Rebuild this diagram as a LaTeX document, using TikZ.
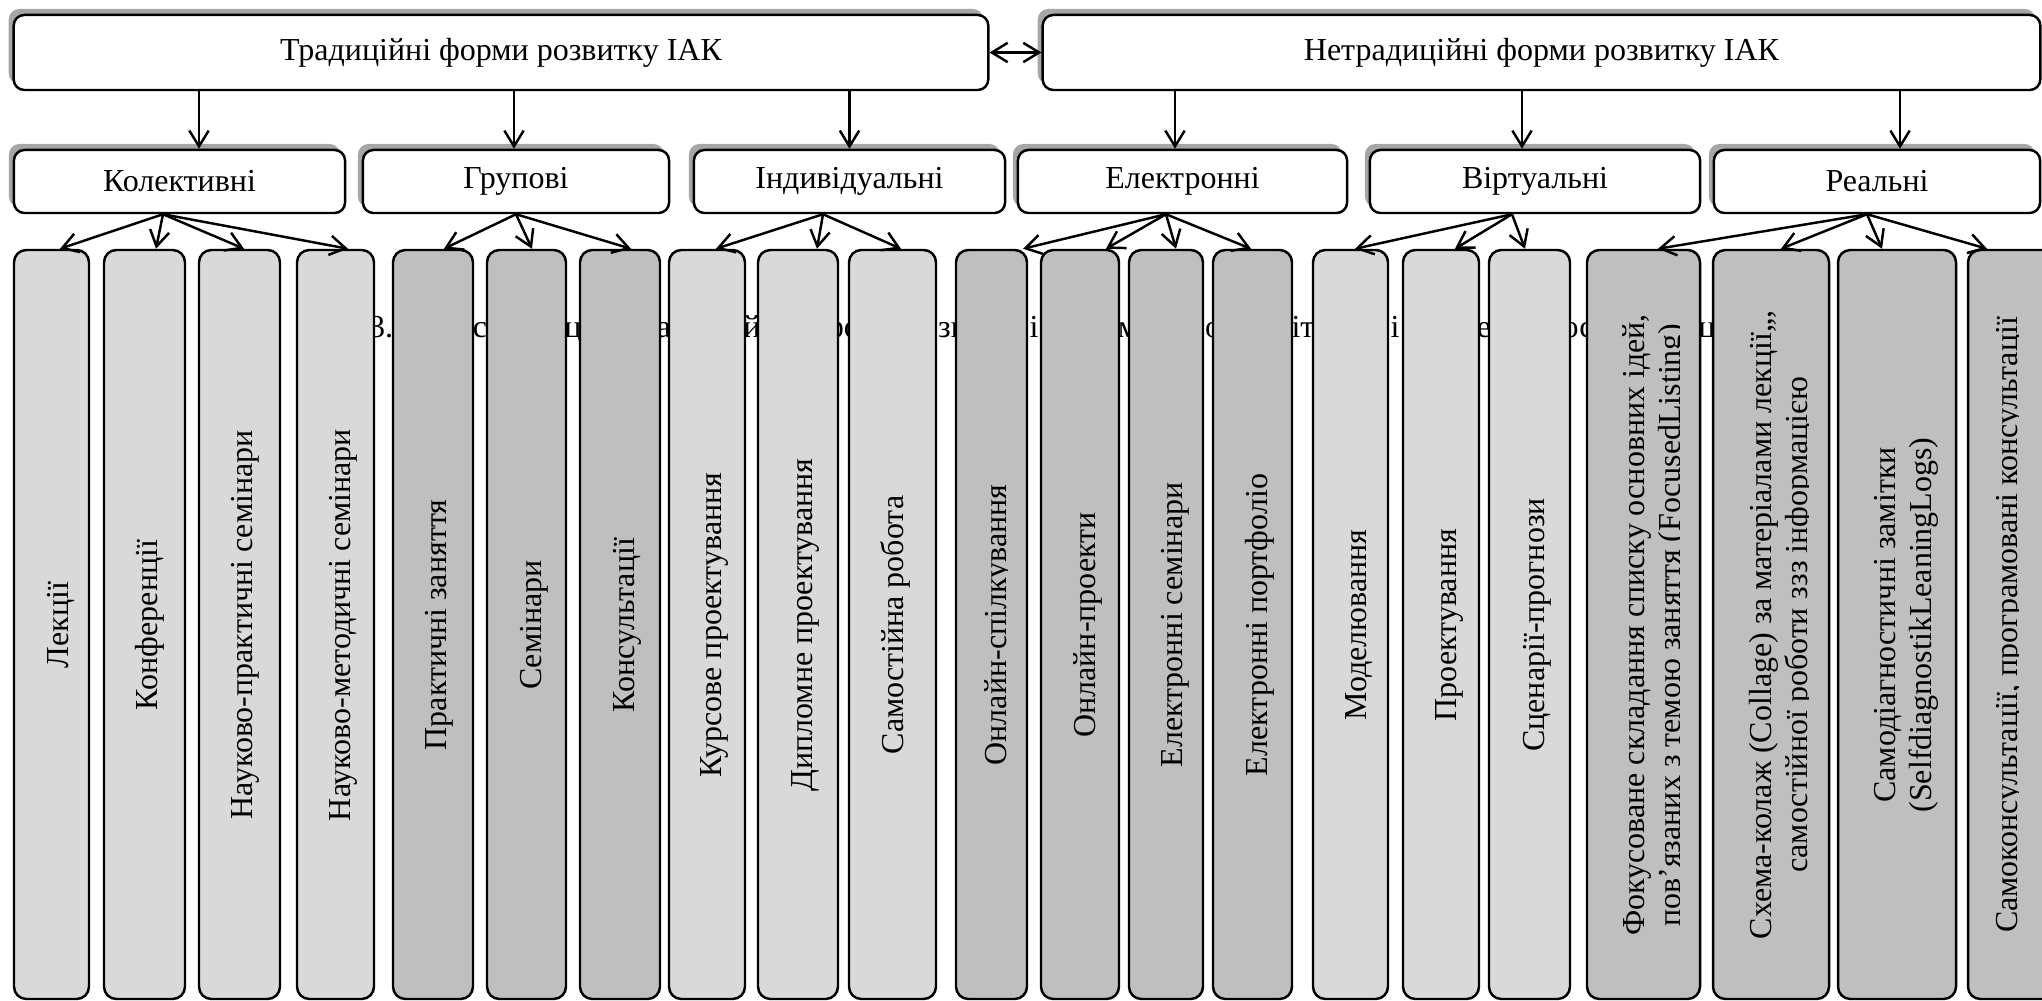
\documentclass[tikz,border=0pt]{standalone}
\usepackage{fontspec}
\setmainfont{Liberation Serif}
\usepackage{tikz}
\usetikzlibrary{positioning,arrows.meta,fit,shadows}

\definecolor{lgray}{HTML}{D9D9D9}
\definecolor{dgray}{HTML}{BFBFBF}

\begin{document}
\begin{tikzpicture}[x=0.01cm,y=-0.01cm,
  font=\fontsize{9.1pt}{10pt}\selectfont,
  >={Straight Barb[length=4.5pt,width=5.5pt]},
  head/.style={draw,fill=white,rounded corners=3pt,line width=0.7pt,
               general shadow={fill=gray!70,shadow xshift=-0.05cm,shadow yshift=0.06cm}},
  leaf/.style={draw,fill=#1,rounded corners=3.5pt,line width=0.7pt,inner sep=0pt},
  ltxt/.style={rotate=90,anchor=base,align=center,inner sep=0pt},
  capt/.style={anchor=base,inner sep=0pt},
  arr/.style={->,line width=0.7pt}]
\useasboundingbox (0,0) rectangle (2042,1001);

% caption line, mostly hidden behind the columns
\foreach \cx/\ct [count=\i] in {389/3.2,480/с,573/ц,664/а,752/й,841.5/фо,952/зв,1034/і,
    1128/м,1213/о,1303/іт,1395/і,1484/е,1578/ос,1707/ц}
  \node[capt] (cap\i) at (\cx,338) {\ct};

% top level
\node[head,minimum width=9.74cm,minimum height=0.75cm] (trad) at (501,52.5) {Традиційні форми розвитку ІАК};
\node[head,minimum width=9.97cm,minimum height=0.75cm] (netrad) at (1541.5,52.5) {Нетрадиційні форми розвитку ІАК};
\draw[arr,<->] (trad) -- (netrad);

% second level
\node[head,minimum width=3.31cm,minimum height=0.63cm] (kol) at (179.5,181.5) {Колективні};
\node[head,minimum width=3.06cm,minimum height=0.63cm] (grp) at (516,181.5) {Групові};
\node[head,minimum width=3.11cm,minimum height=0.63cm] (ind) at (849.5,181.5) {Індивідуальні};
\node[head,minimum width=3.29cm,minimum height=0.63cm] (el) at (1182.5,181.5) {Електронні};
\node[head,minimum width=3.30cm,minimum height=0.63cm] (vir) at (1535,181.5) {Віртуальні};
\node[head,minimum width=3.26cm,minimum height=0.63cm] (real) at (1877,181.5) {Реальні};

\draw[arr] ([xshift=0.195cm]kol.north |- trad.south) -- ([xshift=0.195cm]kol.north);
\draw[arr] ([xshift=-0.02cm]grp.north |- trad.south) -- ([xshift=-0.02cm]grp.north);
\draw[arr] (ind.north |- trad.south) -- (ind.north);
\draw[arr] ([xshift=-0.075cm]el.north |- netrad.south) -- ([xshift=-0.075cm]el.north);
\draw[arr] ([xshift=-0.13cm]vir.north |- netrad.south) -- ([xshift=-0.13cm]vir.north);
\draw[arr] ([xshift=0.23cm]real.north |- netrad.south) -- ([xshift=0.23cm]real.north);

\coordinate (kol-o) at ([xshift=-0.165cm]kol.south);
\coordinate (grp-o) at (grp.south);
\coordinate (ind-o) at ([xshift=-0.265cm]ind.south);
\coordinate (el-o) at ([xshift=-0.165cm]el.south);
\coordinate (vir-o) at ([xshift=-0.23cm]vir.south);
\coordinate (real-o) at ([xshift=-0.1cm]real.south);

% columns: name/left/right/fill/parent/arrow x/clip x/baseline x (last line)/text
\foreach \nm/\xa/\xb/\fc/\pa/\tx/\cl/\bx/\txt in {
  lek/14/89/lgray/kol/60/89/68/{Лекції},
  konf/104/185/lgray/kol/156/185/157/{Конференції},
  nprak/199/280/lgray/kol/244/280/252/{Науково-практичні семінари},
  nmet/297/374/lgray/kol/348/374/350/{Науково-методичні семінари},
  prakt/393/473/dgray/grp/444/473/446/{Практичні заняття},
  sem/487/566/dgray/grp/532/566/541/{Семінари},
  kons/580/660/dgray/grp/631/660/634/{Консультації},
  kurs/669/745/lgray/ind/716/745/721/{Курсове проектування},
  dipl/758/838/lgray/ind/817/838/812/{Дипломне проектування},
  samr/849/936/lgray/ind/901/936/903/{Самостійна робота},
  onsp/956/1027/dgray/el/1023/1007/1006/{Онлайн-спілкування},
  onpr/1041/1119/dgray/el/1106/1119/1095/{Онлайн-проекти},
  elsem/1129/1203/dgray/el/1176/1203/1182/{Електронні семінари},
  elport/1213/1292/dgray/el/1251/1292/1267/{Електронні портфоліо},
  model/1313/1388/lgray/vir/1355/1388/1366/{Моделювання},
  proekt/1403/1479/lgray/vir/1455/1479/1456/{Проектування},
  scen/1489/1570/lgray/vir/1525/1570/1544/{Сценарії-прогнози},
  fok/1587/1700/dgray/real/1658/1679/1680/{Фокусоване складання списку основних ідей,\\пов’язаних з темою заняття (FocusedListing)},
  shema/1713/1829/dgray/real/1781/1808/1807/{Схема-колаж (Collage) за матеріалами лекції,,,\\самостійної роботи ззз інформацією},
  samod/1838/1956/dgray/real/1882/1956/1931/{Самодіагностичні замітки\\(SelfdiagnostikLeaningLogs)},
  samok/1968/2080/dgray/real/1987/2018/2017/{Самоконсультації, програмовані консультації}}
{
  \node[leaf=\fc,fit={(\xa,250) (\xb,999)}] (\nm) {};
  \begin{scope}
    \clip (\xa,250) rectangle (\cl,999);
    \node[ltxt] (\nm-t) at (\bx,625) {\txt};
  \end{scope}
  \draw[arr] (\pa-o) -- (\nm.north -| \tx,0);
}
\end{tikzpicture}
\end{document}
